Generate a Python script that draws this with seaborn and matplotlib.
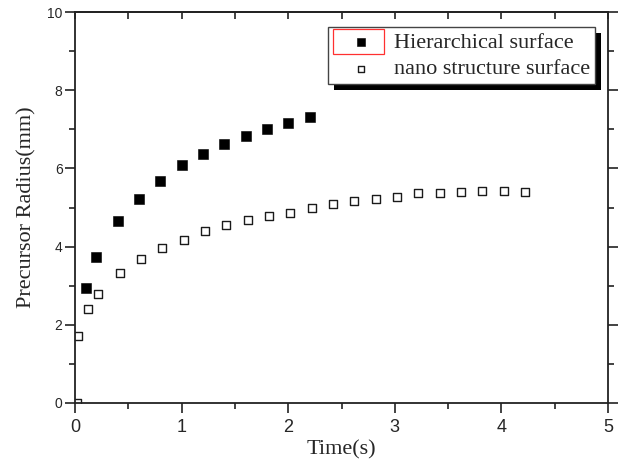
import matplotlib
matplotlib.use('Agg')
import matplotlib.pyplot as plt
import seaborn as sns
import pandas as pd
from matplotlib.patches import Rectangle
from matplotlib.ticker import MultipleLocator

sns.set_style("ticks")

hier_time = [0.1, 0.2, 0.4, 0.6, 0.8, 1.0, 1.2, 1.4, 1.6, 1.8, 2.0, 2.2]
hier_radius = [2.95, 3.73, 4.65, 5.21, 5.68, 6.08, 6.37, 6.62, 6.83, 7.02, 7.16, 7.33]

nano_time = [0.02, 0.03, 0.12, 0.22, 0.42, 0.62, 0.82, 1.02, 1.22, 1.42, 1.62, 1.82,
             2.02, 2.22, 2.42, 2.62, 2.82, 3.02, 3.22, 3.42, 3.62, 3.82, 4.02, 4.22]
nano_radius = [0.0, 1.72, 2.39, 2.78, 3.31, 3.67, 3.95, 4.18, 4.39, 4.55, 4.69, 4.79,
               4.87, 4.98, 5.09, 5.16, 5.21, 5.26, 5.36, 5.37, 5.39, 5.41, 5.42, 5.40]

x_ticks = [0, 1, 2, 3, 4, 5]
y_ticks = [0, 2, 4, 6, 8, 10]

serif = 'Liberation Serif'
sans = 'Liberation Sans'

hier = pd.DataFrame({'t': hier_time, 'r': hier_radius})
nano = pd.DataFrame({'t': nano_time, 'r': nano_radius})

fig = plt.figure(figsize=(6.21, 4.63), dpi=100)
ax = fig.add_axes([75 / 621, 60.3 / 463, 533 / 621, 390.4 / 463])

sns.scatterplot(data=hier, x='t', y='r', marker='s', s=55, color='black',
                edgecolor='black', linewidth=0.4, label='Hierarchical surface', ax=ax)
sns.scatterplot(data=nano, x='t', y='r', marker='s', s=36, facecolor='white',
                edgecolor='#1a1a1a', linewidth=1.0, label='nano structure surface', ax=ax)

ax.set_xlim(0, 5)
ax.set_ylim(0, 10)
ax.set_xticks(x_ticks)
ax.set_yticks(y_ticks)
ax.set_xticklabels([str(v) for v in x_ticks], fontfamily=sans, fontsize=13)
ax.set_yticklabels([str(v) for v in y_ticks], fontfamily=sans, fontsize=10)
ax.xaxis.set_minor_locator(MultipleLocator(0.5))
ax.yaxis.set_minor_locator(MultipleLocator(1))

for side in ['left', 'right', 'top', 'bottom']:
    ax.spines[side].set_visible(True)
    ax.spines[side].set_linewidth(1.3)
    ax.spines[side].set_color('#222222')

ax.tick_params(which='both', direction='out', width=1.2, color='#222222',
               top=False, right=True, labeltop=False, labelright=False)
ax.tick_params(which='major', length=7)
ax.tick_params(which='minor', length=4)
ax.tick_params(axis='x', which='major', pad=5)
ax.tick_params(axis='y', which='major', pad=2)

# top axis: ticks point inward, no labels
sec = ax.secondary_xaxis('top')
sec.set_xticks(x_ticks)
sec.set_xticklabels([])
sec.xaxis.set_minor_locator(MultipleLocator(0.5))
sec.tick_params(which='both', direction='in', width=1.2, color='#222222', length=5)
sec.spines['top'].set_linewidth(1.3)

ax.set_xlabel('Time(s)', fontfamily=serif, fontsize=16, labelpad=3)
ax.set_ylabel('Precursor Radius(mm)', fontfamily=serif, fontsize=16, labelpad=8)

leg = ax.legend(loc='upper right', bbox_to_anchor=(0.9756, 0.962), borderaxespad=0,
                frameon=True, fancybox=False, framealpha=1, edgecolor='#444444',
                prop={'family': serif, 'size': 16}, markerscale=0.75,
                handletextpad=0.25, borderpad=0.22, labelspacing=0.28, handlelength=2.5)
leg.get_frame().set_linewidth(1.0)
leg.set_zorder(5)

# black drop shadow behind the legend box, like the original
fig.canvas.draw()
bb = leg.get_window_extent()
inv = fig.transFigure.inverted()
(x0, y0) = inv.transform((bb.x0 + 6, bb.y0 - 6))
(x1, y1) = inv.transform((bb.x1 + 6, bb.y1 - 6))
ax.add_patch(Rectangle((x0, y0), x1 - x0, y1 - y0, transform=fig.transFigure,
                       facecolor='black', edgecolor='none', zorder=4.9, clip_on=False))

# red selection box around first legend symbol
ax.add_patch(Rectangle((333 / 621, (463 - 54) / 463), 51 / 621, 25 / 463,
                       transform=fig.transFigure, facecolor='none', edgecolor='#ff3030',
                       linewidth=0.9, zorder=6, clip_on=False))

fig.savefig('out.png', dpi=100)
